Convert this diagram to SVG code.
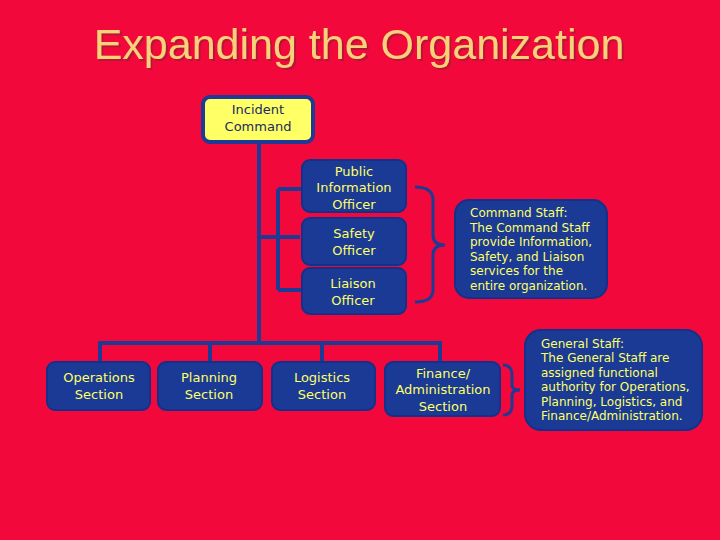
<svg xmlns="http://www.w3.org/2000/svg" width="720" height="540" viewBox="0 0 720 540">
<defs><filter id="sh"><feDropShadow dx="2" dy="2" stdDeviation="0.5" flood-color="#7a2030" flood-opacity="0.5"/></filter></defs>
<style>
.b{fill:#1a3a95;stroke:#16308a;stroke-width:2}
.t{font-family:"DejaVu Sans",sans-serif;font-size:13px;fill:#ffff66;text-anchor:middle}
.s{font-family:"DejaVu Sans",sans-serif;font-size:12px;fill:#ffff66}
.c{stroke:#1f3a94;stroke-width:4;fill:none}
</style>
<rect width="720" height="540" fill="#f2083a"/>
<text x="359" y="59" font-family="Liberation Sans,sans-serif" font-size="43" fill="#f7d27a" text-anchor="middle" filter="url(#sh)">Expanding the Organization</text>
<g id="connectors" class="c">
<path d="M259 142V343M100 362V343H440V362M210 343V362M322 343V362"/>
<path d="M259 237H300M278 189V290M278 189H302M278 290H302"/>
<path d="M415 187Q433 187 433 200V235Q433 245 445 245Q433 245 433 255V290Q433 302 415 302" stroke-width="3"/>
<path d="M503 365Q512 365 512 375V385Q512 390 520 390Q512 390 512 395V405Q512 415 503 415" stroke-width="3"/>
</g>
<g id="ic"><rect x="203" y="97" width="110" height="45" rx="7" fill="#ffff66" stroke="#1f3a94" stroke-width="4"/><text class="t" style="fill:#1a2a60" x="258" y="114">Incident</text><text class="t" style="fill:#1a2a60" x="258" y="131">Command</text></g>
<g id="pio"><rect class="b" x="302" y="160" width="104" height="52" rx="8"/><text class="t" x="354" y="176">Public</text><text class="t" x="354" y="192">Information</text><text class="t" x="354" y="209">Officer</text></g>
<g id="safety"><rect class="b" x="302" y="218" width="104" height="47" rx="8"/><text class="t" x="354" y="238">Safety</text><text class="t" x="354" y="255">Officer</text></g>
<g id="liaison"><rect class="b" x="302" y="268" width="104" height="46" rx="8"/><text class="t" x="353" y="288">Liaison</text><text class="t" x="353" y="305">Officer</text></g>
<g id="cmdstaff"><rect class="b" x="455" y="200" width="152" height="98" rx="14"/>
<text class="s" x="470" y="217">Command Staff:</text><text class="s" x="470" y="232">The Command Staff</text><text class="s" x="470" y="246">provide Information,</text><text class="s" x="470" y="261">Safety, and Liaison</text><text class="s" x="470" y="275">services for the</text><text class="s" x="470" y="290">entire organization.</text></g>
<g id="ops"><rect class="b" x="47" y="362" width="103" height="48" rx="8"/><text class="t" x="99" y="382">Operations</text><text class="t" x="99" y="399">Section</text></g>
<g id="plan"><rect class="b" x="158" y="362" width="104" height="48" rx="8"/><text class="t" x="209" y="382">Planning</text><text class="t" x="209" y="399">Section</text></g>
<g id="log"><rect class="b" x="272" y="362" width="103" height="48" rx="8"/><text class="t" x="322" y="382">Logistics</text><text class="t" x="322" y="399">Section</text></g>
<g id="fin"><rect class="b" x="385" y="362" width="115" height="54" rx="8"/><text class="t" x="443" y="378">Finance/</text><text class="t" x="443" y="394">Administration</text><text class="t" x="443" y="411">Section</text></g>
<g id="genstaff"><rect class="b" x="525" y="330" width="177" height="100" rx="16"/>
<text class="s" x="541" y="348">General Staff:</text><text class="s" x="541" y="362">The General Staff are</text><text class="s" x="541" y="377">assigned functional</text><text class="s" x="541" y="391">authority for Operations,</text><text class="s" x="541" y="406">Planning, Logistics, and</text><text class="s" x="541" y="420">Finance/Administration.</text></g>
</svg>
